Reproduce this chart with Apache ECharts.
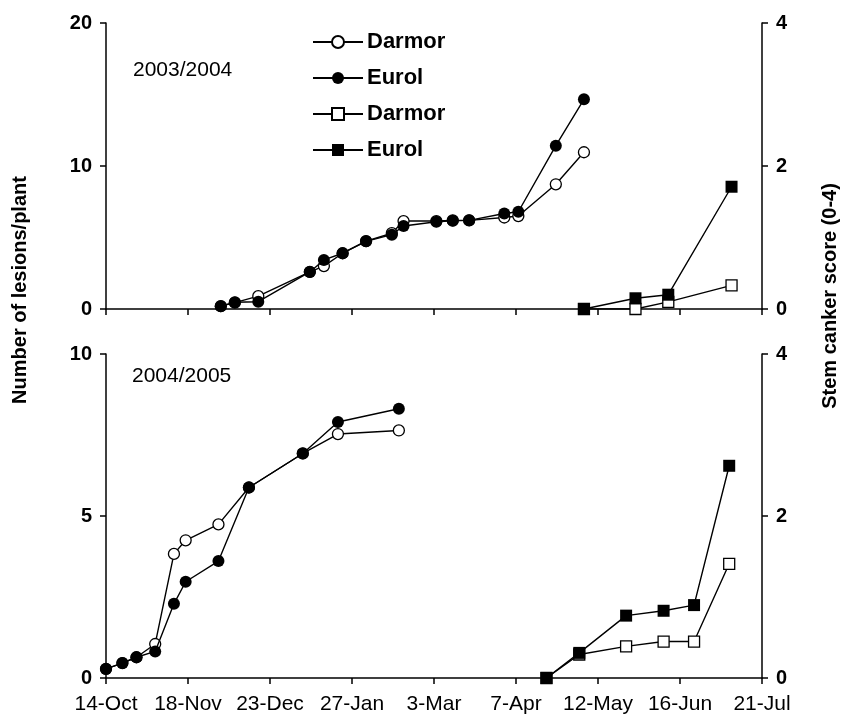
<!DOCTYPE html>
<html>
<head>
<meta charset="utf-8">
<script src="https://cdn.jsdelivr.net/npm/echarts@6.0.0/dist/echarts.min.js"></script>
<style>
  html, body { margin: 0; padding: 0; background: #fff; }
  #chart { width: 846px; height: 721px; }
</style>
</head>
<body>
<div id="chart"></div>
<script>
// x values are days after 14-Oct
const tickLabels = ["14-Oct", "18-Nov", "23-Dec", "27-Jan", "3-Mar", "7-Apr", "12-May", "16-Jun", "21-Jul"];

// 2003/2004
const lesionDays0304 = [49, 55, 65, 87, 93, 101, 111, 122, 127, 141, 148, 155, 170, 176, 192, 204];
const lesionDarmor0304 = [0.2, 0.45, 0.9, 2.6, 3.0, 3.9, 4.75, 5.3, 6.15, 6.15, 6.2, 6.2, 6.4, 6.5, 8.72, 10.96];
const lesionEurol0304 = [0.2, 0.47, 0.51, 2.59, 3.43, 3.9, 4.73, 5.2, 5.8, 6.1, 6.17, 6.2, 6.68, 6.8, 11.42, 14.66];
const cankerDays0304 = [204, 226, 240, 267];
const cankerDarmor0304 = [0, 0, 0.1, 0.33];
const cankerEurol0304 = [0, 0.15, 0.2, 1.71];

// 2004/2005
const lesionDays0405 = [0, 7, 13, 21, 29, 34, 48, 61, 84, 99, 125];
const lesionDarmor0405 = [0.28, 0.46, 0.64, 1.05, 3.83, 4.25, 4.74, 5.88, 6.93, 7.53, 7.64];
const lesionEurol0405 = [0.28, 0.46, 0.64, 0.82, 2.29, 2.97, 3.61, 5.88, 6.93, 7.9, 8.31];
const cankerDays0405 = [188, 202, 222, 238, 251, 266];
const cankerDarmor0405 = [0, 0.29, 0.39, 0.45, 0.45, 1.41];
const cankerEurol0405 = [0, 0.31, 0.77, 0.83, 0.9, 2.62];

const FONT = "Liberation Sans, Arial, sans-serif";

function zip(xs, ys) {
  return xs.map((x, i) => [x, ys[i]]);
}

function makeSeries(name, symbol, filled, xIdx, yIdx, days, vals) {
  return {
    name: name,
    type: "line",
    xAxisIndex: xIdx,
    yAxisIndex: yIdx,
    data: zip(days, vals),
    symbol: symbol,
    symbolSize: filled ? 12 : 11,
    showAllSymbol: true,
    z: filled ? 3 : 2,
    lineStyle: { color: "#000", width: 1.4 },
    itemStyle: filled
      ? { color: "#000", borderColor: "#000", borderWidth: 0 }
      : { color: "#fff", borderColor: "#000", borderWidth: 1.3 },
    emphasis: { disabled: true },
  };
}

const axisLine = { show: true, lineStyle: { color: "#000", width: 1.5 } };
const axisTick = { show: true, length: 6, lineStyle: { color: "#000", width: 1.5 } };
const boldLabel = { color: "#000", fontFamily: FONT, fontWeight: "bold", fontSize: 20 };

function xAxis(gridIndex, showLabels) {
  return {
    type: "value",
    gridIndex: gridIndex,
    min: 0,
    max: 280,
    interval: 35,
    axisLine: axisLine,
    axisTick: axisTick,
    splitLine: { show: false },
    axisLabel: {
      show: showLabels,
      color: "#000",
      fontFamily: FONT,
      fontSize: 21,
      margin: 16,
      formatter: (v) => tickLabels[Math.round(v / 35)],
    },
  };
}

function yAxis(gridIndex, position, max, interval) {
  return {
    type: "value",
    gridIndex: gridIndex,
    position: position,
    min: 0,
    max: max,
    interval: interval,
    axisLine: axisLine,
    axisTick: axisTick,
    splitLine: { show: false },
    axisLabel: Object.assign({ margin: 14 }, boldLabel),
  };
}

const chart = echarts.init(document.getElementById("chart"), null, { renderer: "canvas" });

const option = {
  backgroundColor: "#fff",
  animation: false,
  grid: [
    { left: 106, width: 656, top: 23, height: 286 },
    { left: 106, width: 656, top: 354, height: 324 },
  ],
  xAxis: [xAxis(0, false), xAxis(1, true)],
  yAxis: [
    yAxis(0, "left", 20, 10),
    yAxis(0, "right", 4, 2),
    yAxis(1, "left", 10, 5),
    yAxis(1, "right", 4, 2),
  ],
  legend: {
    orient: "vertical",
    left: 307,
    top: 26,
    itemWidth: 50,
    itemHeight: 15,
    itemGap: 14,
    selectedMode: false,
    data: ["Darmor lesions", "Eurol lesions", "Darmor canker", "Eurol canker"],
    formatter: (name) => name.split(" ")[0],
    textStyle: { color: "#000", fontFamily: FONT, fontWeight: "bold", fontSize: 22, lineHeight: 22, padding: [0, 0, 0, -1] },
  },
  graphic: [
    {
      type: "text",
      x: 20,
      y: 290,
      rotation: Math.PI / 2,
      style: {
        text: "Number of lesions/plant",
        fill: "#000",
        font: "bold 20px " + FONT,
        textAlign: "center",
        textVerticalAlign: "middle",
      },
    },
    {
      type: "text",
      x: 830,
      y: 296,
      rotation: Math.PI / 2,
      style: {
        text: "Stem canker score (0-4)",
        fill: "#000",
        font: "bold 20px " + FONT,
        textAlign: "center",
        textVerticalAlign: "middle",
      },
    },
    {
      type: "text",
      x: 133,
      y: 70,
      style: { text: "2003/2004", fill: "#000", font: "21px " + FONT, textVerticalAlign: "middle" },
    },
    {
      type: "text",
      x: 132,
      y: 376,
      style: { text: "2004/2005", fill: "#000", font: "21px " + FONT, textVerticalAlign: "middle" },
    },
  ],
  series: [
    makeSeries("Darmor lesions", "circle", false, 0, 0, lesionDays0304, lesionDarmor0304),
    makeSeries("Eurol lesions", "circle", true, 0, 0, lesionDays0304, lesionEurol0304),
    makeSeries("Darmor canker", "rect", false, 0, 1, cankerDays0304, cankerDarmor0304),
    makeSeries("Eurol canker", "rect", true, 0, 1, cankerDays0304, cankerEurol0304),
    makeSeries("Darmor lesions", "circle", false, 1, 2, lesionDays0405, lesionDarmor0405),
    makeSeries("Eurol lesions", "circle", true, 1, 2, lesionDays0405, lesionEurol0405),
    makeSeries("Darmor canker", "rect", false, 1, 3, cankerDays0405, cankerDarmor0405),
    makeSeries("Eurol canker", "rect", true, 1, 3, cankerDays0405, cankerEurol0405),
  ],
};

chart.setOption(option);
</script>
</body>
</html>
